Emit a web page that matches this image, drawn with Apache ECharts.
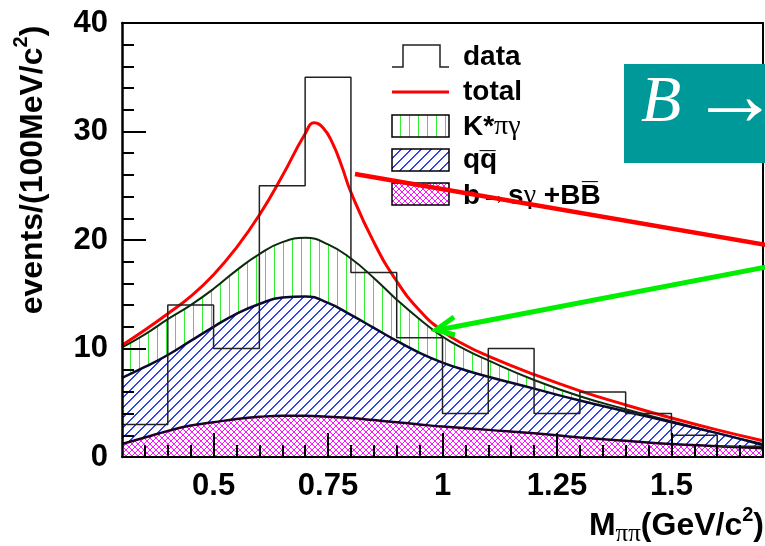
<!DOCTYPE html>
<html>
<head>
<meta charset="utf-8">
<script src="https://cdn.jsdelivr.net/npm/echarts@6/dist/echarts.min.js"></script>
<style>
  html, body { margin: 0; padding: 0; background: #fff; }
  #chart { width: 765px; height: 546px; }
</style>
</head>
<body>
<div id="chart"></div>
<script>
// Mass spectrum M(pi pi): data histogram with stacked fit components

// histogram: bin edges (GeV/c^2) and event counts per 100 MeV bin
const binEdges = [0.3, 0.4, 0.5, 0.6, 0.7, 0.8, 0.9, 1.0, 1.1, 1.2, 1.3, 1.4, 1.5, 1.6, 1.7];
const counts   = [3, 14, 10, 25, 35, 17, 11, 4, 10, 4, 6, 4, 2, 1];

// fit components, given as cumulative (stacked) heights
const curveX   = [0.30, 0.35, 0.40, 0.45, 0.50, 0.55, 0.60, 0.65, 0.70, 0.75, 0.80, 0.85,
                  0.90, 0.95, 1.00, 1.05, 1.10, 1.20, 1.30, 1.40, 1.50, 1.60, 1.70];
const kstarTop = [10.1, 11.3, 12.7, 14.0, 15.5, 17.2, 18.7, 19.8, 20.2, 19.6, 18.3, 16.5,
                  14.5, 12.7, 11.1, 9.9, 8.9, 7.1, 5.6, 4.4, 3.3, 2.2, 1.2];
const qqTop    = [7.3, 8.3, 9.4, 10.7, 12.0, 13.2, 14.1, 14.7, 14.8, 14.2, 13.1, 11.9,
                  10.7, 9.6, 8.7, 8.0, 7.4, 6.3, 5.2, 4.2, 3.2, 2.2, 1.1];
const bsgTop   = [1.2, 1.8, 2.4, 2.9, 3.2, 3.5, 3.7, 3.8, 3.8, 3.7, 3.6, 3.4,
                  3.2, 3.0, 2.8, 2.65, 2.5, 2.2, 1.8, 1.5, 1.2, 1.0, 0.8];

// total fit curve
const totalX = [0.30, 0.35, 0.40, 0.45, 0.50, 0.55, 0.60, 0.65, 0.70, 0.72, 0.74, 0.76, 0.78,
                0.80, 0.85, 0.90, 0.95, 1.00, 1.05, 1.10, 1.20, 1.30, 1.40, 1.50, 1.60, 1.70];
const totalY = [10.3, 11.7, 13.2, 14.8, 16.8, 19.3, 22.3, 25.9, 29.8, 30.8, 30.3, 28.9, 26.8,
                24.4, 19.8, 16.2, 13.5, 11.6, 10.3, 9.3, 7.6, 6.1, 4.8, 3.6, 2.5, 1.5];

// axis ticks
const xTickValues  = [0.5, 0.75, 1, 1.25, 1.5];
const xTickLabels  = ['0.5', '0.75', '1', '1.25', '1.5'];
const xMinorTicks  = [0.35, 0.4, 0.45, 0.5, 0.55, 0.6, 0.65, 0.7, 0.75, 0.8, 0.85, 0.9, 0.95,
                      1.0, 1.05, 1.1, 1.15, 1.2, 1.25, 1.3, 1.35, 1.4, 1.45, 1.5, 1.55, 1.6, 1.65];
const yTickLabels  = ['0', '10', '20', '30', '40'];

// ---- fill patterns (hatching on white) ----
function hatch(kind, color, size, w) {
  const c = document.createElement('canvas');
  c.width = size; c.height = size;
  const g = c.getContext('2d');
  g.fillStyle = '#fff';
  g.fillRect(0, 0, size, size);
  g.fillStyle = color;
  for (let i = 0; i < size; i++) {
    if (kind === 'vertical') g.fillRect(Math.floor(size / 2), i, w, 1);
    if (kind === 'slash' || kind === 'cross') {
      g.fillRect(i, size - 1 - i, w, 1);
      if (i + w > size) g.fillRect(i - size, size - 1 - i, w, 1);
    }
    if (kind === 'cross') g.fillRect(i, i, 1, 1);
  }
  return c;
}
const greenHatch   = hatch('vertical', '#33ee33', 9, 1);
const blueHatch    = hatch('slash', '#2f3fff', 10, 2);
const magentaHatch = hatch('cross', '#ff11ff', 6, 1);
const pat = (img) => ({ image: img, repeat: 'repeat' });

const zip = (xs, ys) => xs.map((x, i) => [x, ys[i]]);
const histData = binEdges.map((e, i) => [e, counts[Math.min(i, counts.length - 1)]]);

const FONT = 'Liberation Sans, Arial, Helvetica, sans-serif';
const SERIF = 'Liberation Serif, Times New Roman, serif';

const chart = echarts.init(document.getElementById('chart'), null, { renderer: 'canvas' });

const commonX = { type: 'value', min: 0.3, max: 1.7, splitLine: { show: false } };
const commonY = { type: 'value', min: 0, max: 40, interval: 10, splitLine: { show: false } };

chart.setOption({
  animation: false,
  backgroundColor: '#fff',
  grid: { left: 122, top: 23, right: 2, bottom: 89, containLabel: false },
  xAxis: [
    Object.assign({}, commonX, {
      position: 'bottom', z: 10,
      axisLine: { show: true, onZero: false, lineStyle: { color: '#000', width: 2 } },
      axisTick: { show: true, inside: true, length: 24, customValues: xTickValues,
                  lineStyle: { color: '#000', width: 2 } },
      axisLabel: { show: true, customValues: xTickValues, margin: 14,
                   fontFamily: FONT, fontWeight: 'bold', fontSize: 31, color: '#000',
                   formatter: (v) => xTickLabels[xTickValues.indexOf(v)] ?? '' }
    }),
    Object.assign({}, commonX, {
      position: 'bottom', z: 10,
      axisLine: { show: false },
      axisTick: { show: true, inside: true, length: 12, customValues: xMinorTicks,
                  lineStyle: { color: '#000', width: 2 } },
      axisLabel: { show: false }
    }),
    Object.assign({}, commonX, {
      position: 'top', z: 10,
      axisLine: { show: true, onZero: false, lineStyle: { color: '#000', width: 2 } },
      axisTick: { show: false }, axisLabel: { show: false }
    })
  ],
  yAxis: [
    Object.assign({}, commonY, {
      position: 'left', z: 10,
      axisLine: { show: true, onZero: false, lineStyle: { color: '#000', width: 2.5 } },
      axisTick: { show: true, inside: true, length: 24, lineStyle: { color: '#000', width: 2 } },
      minorTick: { show: true, splitNumber: 5, length: 12, lineStyle: { color: '#000', width: 2 } },
      minorSplitLine: { show: false },
      axisLabel: { margin: 14, fontFamily: FONT, fontWeight: 'bold', fontSize: 31, color: '#000',
                   formatter: (v) => yTickLabels[v / 10] }
    }),
    Object.assign({}, commonY, {
      position: 'right', z: 10,
      axisLine: { show: true, onZero: false, lineStyle: { color: '#000', width: 2 } },
      axisTick: { show: false }, axisLabel: { show: false }
    })
  ],
  series: [
    { name: 'K*πγ', type: 'line', z: 2, xAxisIndex: 0, yAxisIndex: 0,
      data: zip(curveX, kstarTop), smooth: 0.5, showSymbol: false,
      lineStyle: { color: '#0d2a0d', width: 2 },
      areaStyle: { color: pat(greenHatch), opacity: 1 } },
    { name: 'qq', type: 'line', z: 3, xAxisIndex: 0, yAxisIndex: 0,
      data: zip(curveX, qqTop), smooth: 0.5, showSymbol: false,
      lineStyle: { color: '#0a0a30', width: 2.5 },
      areaStyle: { color: pat(blueHatch), opacity: 1 } },
    { name: 'bsg', type: 'line', z: 4, xAxisIndex: 0, yAxisIndex: 0,
      data: zip(curveX, bsgTop), smooth: 0.5, showSymbol: false,
      lineStyle: { color: '#200020', width: 2.5 },
      areaStyle: { color: pat(magentaHatch), opacity: 1 } },
    { name: 'total', type: 'line', z: 5, xAxisIndex: 0, yAxisIndex: 0,
      data: zip(totalX, totalY), smooth: 0.5, showSymbol: false,
      lineStyle: { color: '#ff0000', width: 3 } },
    { name: 'data', type: 'line', z: 6, xAxisIndex: 0, yAxisIndex: 0,
      data: histData, step: 'end', showSymbol: false,
      lineStyle: { color: '#222', width: 1.5 } }
  ],
  graphic: { elements: [
    // legend
    { type: 'polyline', z: 20, shape: { points: [[392, 67], [403, 67], [403, 45], [440, 45], [440, 67], [449, 67]] },
      style: { stroke: '#222', lineWidth: 1.5, fill: null } },
    { type: 'line', z: 20, shape: { x1: 392, y1: 92, x2: 449, y2: 92 }, style: { stroke: '#ff0000', lineWidth: 3 } },
    { type: 'rect', z: 20, shape: { x: 392, y: 115, width: 57, height: 22 },
      style: { fill: pat(greenHatch), stroke: '#000', lineWidth: 1.5 } },
    { type: 'rect', z: 20, shape: { x: 392, y: 149, width: 57, height: 22 },
      style: { fill: pat(blueHatch), stroke: '#000', lineWidth: 1.5 } },
    { type: 'rect', z: 20, shape: { x: 392, y: 183, width: 57, height: 22 },
      style: { fill: pat(magentaHatch), stroke: '#000', lineWidth: 1.5 } },
    { type: 'text', z: 20, x: 463, y: 57, style: { text: 'data', fill: '#000', font: 'bold 28px ' + FONT, textVerticalAlign: 'middle' } },
    { type: 'text', z: 20, x: 463, y: 92, style: { text: 'total', fill: '#000', font: 'bold 28px ' + FONT, textVerticalAlign: 'middle' } },
    { type: 'text', z: 20, x: 463, y: 127, style: {
        text: '{a|K*}{g|πγ}', textVerticalAlign: 'middle',
        rich: { a: { fontFamily: FONT, fontWeight: 'bold', fontSize: 28, fill: '#000' },
                g: { fontFamily: SERIF, fontSize: 28, fill: '#000' } } } },
    { type: 'text', z: 20, x: 463, y: 160, style: { text: 'qq\u0305', fill: '#000', font: 'bold 28px ' + FONT, textVerticalAlign: 'middle' } },
    { type: 'text', z: 20, x: 463, y: 196, style: {
        text: '{a|b→s}{g|γ}{a| +BB\u0305}', textVerticalAlign: 'middle',
        rich: { a: { fontFamily: FONT, fontWeight: 'bold', fontSize: 28, fill: '#000' },
                g: { fontFamily: SERIF, fontSize: 28, fill: '#000' } } } },
    // decay label box
    { type: 'rect', z: 21, shape: { x: 624, y: 64, width: 145, height: 99 }, style: { fill: '#009999' } },
    { type: 'text', z: 22, x: 641, y: 104, style: {
        text: 'B', textVerticalAlign: 'middle',
        font: 'italic 66px ' + SERIF, fill: '#fff' } },
    { type: 'text', z: 22, x: 690, y: 101, style: {
        text: '→', textVerticalAlign: 'middle',
        font: '90px ' + SERIF, fill: '#fff' } },
    // annotation pointers
    { type: 'line', z: 23, shape: { x1: 355, y1: 174, x2: 766, y2: 245 }, style: { stroke: '#ff0000', lineWidth: 4.5 } },
    { type: 'line', z: 23, shape: { x1: 766, y1: 267, x2: 438, y2: 330 }, style: { stroke: '#00ee00', lineWidth: 5 } },
    { type: 'polyline', z: 23, shape: { points: [[454, 317], [436, 330], [455, 335]] },
      style: { stroke: '#00ee00', lineWidth: 5, fill: null, lineJoin: 'miter' } },
    // axis titles
    { type: 'text', z: 20, x: 30, y: 170, rotation: Math.PI / 2, style: {
        text: '{a|events/(100MeV/c}{s|2}{a|)}', textAlign: 'center', textVerticalAlign: 'middle',
        rich: { a: { fontFamily: FONT, fontWeight: 'bold', fontSize: 32, fill: '#000', lineHeight: 38, verticalAlign: 'bottom' },
                s: { fontFamily: FONT, fontWeight: 'bold', fontSize: 20, fill: '#000', lineHeight: 38, verticalAlign: 'top' } } } },
    { type: 'text', z: 20, x: 764, y: 526, style: {
        text: '{a|M}{p|ππ}{a|(GeV/c}{s|2}{a|)}', textAlign: 'right', textVerticalAlign: 'middle',
        rich: { a: { fontFamily: FONT, fontWeight: 'bold', fontSize: 32, fill: '#000', lineHeight: 42, verticalAlign: 'middle' },
                p: { fontFamily: SERIF, fontSize: 25, fill: '#000', lineHeight: 42, verticalAlign: 'bottom' },
                s: { fontFamily: FONT, fontWeight: 'bold', fontSize: 20, fill: '#000', lineHeight: 42, verticalAlign: 'top' } } } }
  ] }
});
</script>
</body>
</html>
